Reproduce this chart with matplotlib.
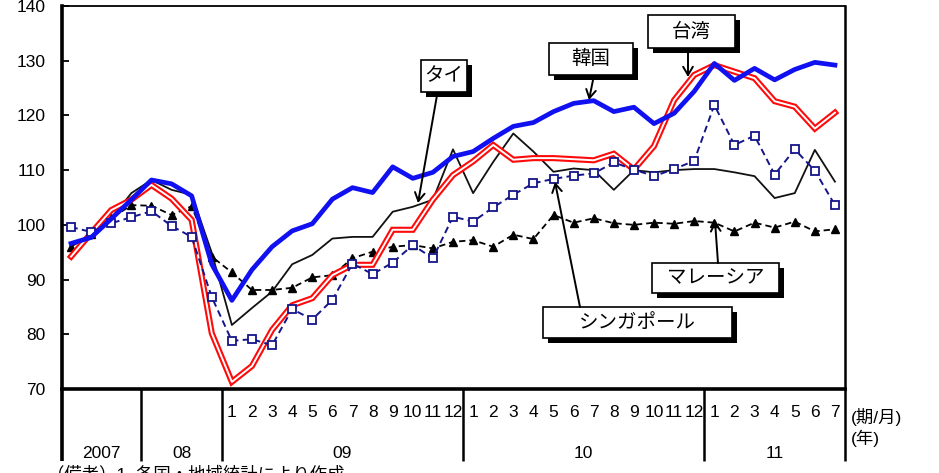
import matplotlib
matplotlib.use('Agg')
import matplotlib.pyplot as plt
from matplotlib.patches import Rectangle

plt.rcParams['font.family'] = ['Liberation Sans', 'Noto Sans CJK JP', 'DejaVu Sans']

W, H = 939, 473

# ---- data (2007-2008 quarterly, 2009/1 - 2011/7 monthly) ----
years = ['2007', '08', '09', '10', '11']
year_centers = [1.5, 5.5, 13.5, 25.5, 35.0]
year_bounds = [3.5, 7.5, 19.5, 31.5]
month_labels = [str(m) for m in range(1, 13)] * 2 + [str(m) for m in range(1, 8)]

korea = [96.6, 97.7, 101.1, 104.6, 108.2, 107.5, 105.3, 92.8, 86.2, 91.8,
         96.0, 98.9, 100.2, 104.7, 106.8, 105.9, 110.6, 108.5, 109.6, 112.5,
         113.4, 115.8, 118.0, 118.7, 120.7, 122.2, 122.7, 120.7, 121.5, 118.5,
         120.4, 124.4, 129.5, 126.4, 128.6, 126.5, 128.4, 129.7, 129.2]
taiwan = [94.2, 98.5, 102.7, 104.6, 107.3, 104.8, 100.9, 80.2, 71.3, 74.2,
          80.8, 85.3, 86.6, 90.8, 92.7, 92.7, 99.1, 99.1, 104.6, 109.1,
          111.6, 114.6, 111.9, 112.2, 112.2, 112.0, 111.8, 113.0, 110.1, 114.4,
          122.8, 127.4, 129.2, 128.0, 126.8, 122.6, 121.6, 117.6, 120.5]
thailand = [96.3, 97.5, 101.2, 105.8, 108.2, 106.4, 105.5, 94.9, 81.7, 84.8,
            87.8, 92.8, 94.5, 97.5, 97.8, 97.8, 102.4, 103.3, 104.6, 113.8,
            105.8, 111.5, 116.7, 113.4, 109.7, 110.3, 110.0, 106.4, 110.0, 109.6,
            110.0, 110.2, 110.2, 109.6, 108.9, 104.9, 105.8, 113.7, 107.9]
singapore = [99.6, 98.7, 100.3, 101.4, 102.5, 99.8, 97.8, 86.8, 78.8, 79.1,
             78.0, 84.6, 82.7, 86.3, 92.9, 91.0, 93.1, 96.3, 93.9, 101.5,
             100.6, 103.2, 105.5, 107.6, 108.4, 109.0, 109.4, 111.4, 110.1, 108.9,
             110.2, 111.7, 121.9, 114.6, 116.3, 109.2, 113.8, 109.9, 103.6]
malaysia = [96.0, 98.3, 101.2, 103.6, 103.5, 101.8, 103.4, 94.2, 91.3, 88.1,
            88.1, 88.5, 90.4, 90.8, 93.9, 95.1, 96.0, 96.3, 95.7, 96.9,
            97.2, 96.0, 98.2, 97.4, 101.8, 100.4, 101.2, 100.3, 100.0, 100.4,
            100.2, 100.7, 100.4, 98.8, 100.4, 99.5, 100.6, 98.8, 99.2]

x = list(range(len(korea)))

fig = plt.figure(figsize=(W / 100, H / 100), dpi=100)
ax = fig.add_axes([62 / W, 1 - 389 / H, 783 / W, 383 / H])
ax.set_xlim(-0.45, 38.5)
ax.set_ylim(70, 140)

# series
ax.plot(x, thailand, color='#111111', lw=1.3, zorder=3)
ax.plot(x, malaysia, color='black', lw=1.3, ls=(0, (3.5, 2.2)),
        marker='^', ms=5.8, mfc='black', mec='black', zorder=4)
ax.plot(x, taiwan, color='#ff0a0a', lw=4.4, zorder=5, solid_joinstyle='miter')
ax.plot(x, taiwan, color='white', lw=1.4, zorder=5.1)
ax.plot(x, singapore, color='#15158a', lw=1.4, ls=(0, (3.5, 2.2)),
        marker='s', ms=5.6, mfc='white', mec='#15158a', mew=1.3, zorder=6)
ax.plot(x, korea, color='#1010f0', lw=3.4, zorder=7)

# spines / ticks
for s, lw in [('left', 2.6), ('bottom', 2.6), ('top', 1.3), ('right', 1.8)]:
    ax.spines[s].set_linewidth(lw)
    ax.spines[s].set_color('black')
ax.set_yticks(range(70, 141, 10))
ax.tick_params(axis='y', direction='in', length=5, width=1.3, pad=12,
               labelsize=12.5)
ax.set_xticks([])

tr = ax.get_xaxis_transform()
# month labels
for i, lab in zip(range(8, 39), month_labels):
    ax.text(i, -(417 - 389) / 383, lab, transform=tr, ha='center',
            va='baseline', fontsize=12.5, clip_on=False)
# year labels
for c, lab in zip(year_centers, years):
    ax.text(c, -(458 - 389) / 383, lab, transform=tr, ha='center',
            va='baseline', fontsize=12.5, clip_on=False)
# dividers
ybot = -(461 - 389) / 383
for b in [-0.45] + year_bounds + [38.5]:
    lw = 2.6 if b == -0.45 else 1.8
    ax.plot([b, b], [0, ybot], transform=tr, color='black', lw=lw,
            clip_on=False, solid_capstyle='butt')

def fx(px):
    return px / W

def fy(py):
    return 1 - py / H

fig.text(fx(851), fy(417), '(期/月)', fontsize=12.5, va='center', ha='left')
fig.text(fx(851), fy(438), '(年)', fontsize=12.5, va='center', ha='left')
fig.text(fx(47), fy(465), '（備考）1. 各国・地域統計により作成', fontsize=12.5,
         va='top', ha='left')

# annotation boxes: (x0, y0, x1, y1) in px, label, arrow start, arrow tip
boxes = [
    ((421, 60, 467, 92), 'タイ', (436.7, 97), (418, 203)),
    ((549, 43, 633, 75), '韓国', (593, 80), (589, 100)),
    ((648, 15, 735, 48), '台湾', (688, 53), (688, 77)),
    ((652, 263, 779, 293), 'マレーシア', (718, 263), (715, 221)),
    ((543, 307, 732, 338), 'シンガポール', (580, 307), (555, 182)),
]
sh = 5
for (x0, y0, x1, y1), lab, st, tip in boxes:
    shadow = Rectangle((fx(x0 + sh), fy(y1 + sh)), (x1 - x0) / W, (y1 - y0) / H,
                       transform=fig.transFigure, fc='black', ec='black',
                       lw=0, zorder=10)
    fig.add_artist(shadow)
    box = Rectangle((fx(x0), fy(y1)), (x1 - x0) / W, (y1 - y0) / H,
                    transform=fig.transFigure, fc='white', ec='black',
                    lw=1.2, zorder=11)
    fig.add_artist(box)
    fig.text(fx((x0 + x1) / 2), fy((y0 + y1) / 2), lab, fontsize=14,
             ha='center', va='center', zorder=12,
             family=['Noto Sans CJK JP', 'DejaVu Sans'])
    fig.add_artist(matplotlib.patches.FancyArrowPatch(
        (fx(st[0]), fy(st[1])), (fx(tip[0]), fy(tip[1])),
        transform=fig.transFigure, arrowstyle='->,head_length=6,head_width=3.5',
        color='black', lw=1.4, zorder=12, shrinkA=0, shrinkB=0))

fig.savefig('out.png', dpi=100)
